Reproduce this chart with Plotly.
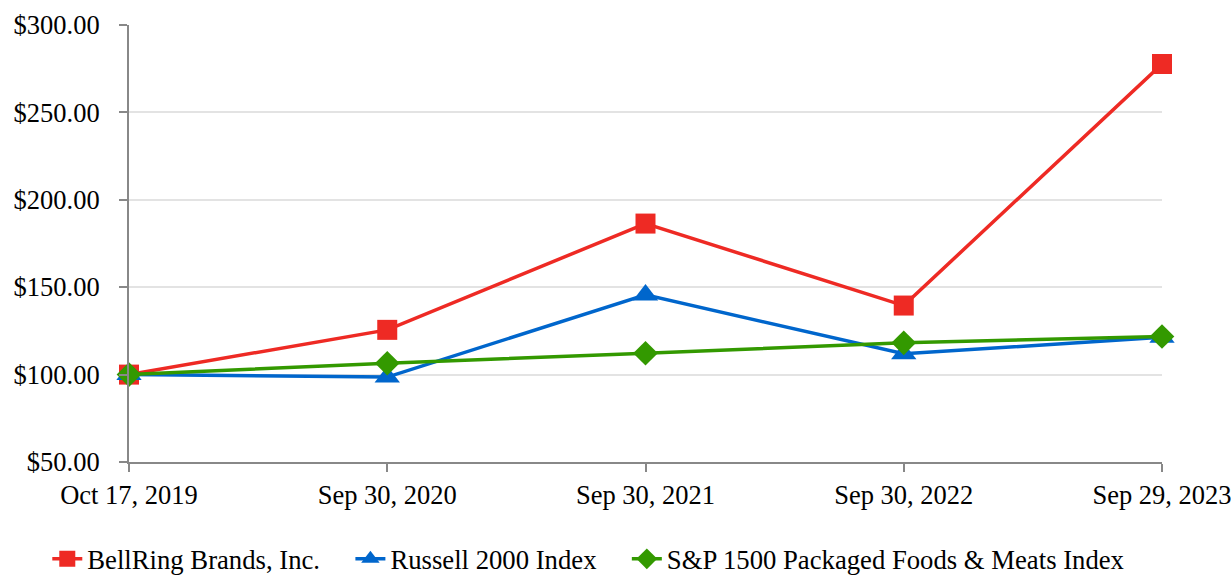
import plotly.graph_objects as go

dates = ["Oct 17, 2019", "Sep 30, 2020", "Sep 30, 2021", "Sep 30, 2022", "Sep 29, 2023"]
bellring = [100.0, 125.6, 186.4, 139.5, 277.7]
russell = [100.0, 98.6, 145.6, 111.9, 121.3]
sp1500 = [100.0, 106.5, 112.2, 118.2, 121.8]
y_ticks = [50, 100, 150, 200, 250, 300]
names = ["BellRing Brands, Inc.", "Russell 2000 Index", "S&P 1500 Packaged Foods & Meats Index"]

xs = list(range(len(dates)))
font = "Liberation Serif, Times New Roman, serif"
pad = "\u00a0" * 3 + "\u2009"

fig = go.Figure()
fig.add_trace(go.Scatter(x=xs, y=bellring, name=names[0] + pad, mode="lines+markers",
                         line=dict(color="#EE2A24", width=3.5),
                         marker=dict(symbol="square", size=20, color="#EE2A24"), cliponaxis=False))
fig.add_trace(go.Scatter(x=xs, y=russell, name=names[1] + pad, mode="lines+markers",
                         line=dict(color="#0066CC", width=3.5),
                         marker=dict(symbol="triangle-up", size=22, color="#0066CC"), cliponaxis=False))
fig.add_trace(go.Scatter(x=xs, y=sp1500, name=names[2], mode="lines+markers",
                         line=dict(color="#339900", width=3.5),
                         marker=dict(symbol="diamond", size=19, color="#339900"), cliponaxis=False))

fig.update_layout(
    width=1231, height=576,
    margin=dict(l=129, r=69, t=25, b=114, autoexpand=False),
    paper_bgcolor="white", plot_bgcolor="white",
    font=dict(family=font, size=26.5, color="black"),
    showlegend=True,
    legend=dict(orientation="h", x=-0.0791, xanchor="left", y=-0.222, yanchor="middle",
                font=dict(family=font, size=26.7), itemwidth=30, tracegroupgap=0,
                borderwidth=0),
    xaxis=dict(range=[0, 4], tickvals=xs, ticktext=dates, showgrid=False, automargin=False,
               ticklabeloverflow="allow",
               showline=True, linecolor="#888888", linewidth=2,
               ticks="outside", ticklen=8, tickcolor="#888888", tickwidth=2, zeroline=False),
    yaxis=dict(range=[50, 300], tickvals=y_ticks, ticktext=[f"${v:.2f}" for v in y_ticks],
               showgrid=True, gridcolor="#E3E3E3", gridwidth=2, automargin=False,
               ticklabelstandoff=14,
               showline=True, linecolor="#888888", linewidth=2,
               ticks="outside", ticklen=8, tickcolor="#888888", tickwidth=2, zeroline=False),
)

fig.write_html("out.html", config={"displayModeBar": False},
               post_script="document.body.style.margin='0';")
